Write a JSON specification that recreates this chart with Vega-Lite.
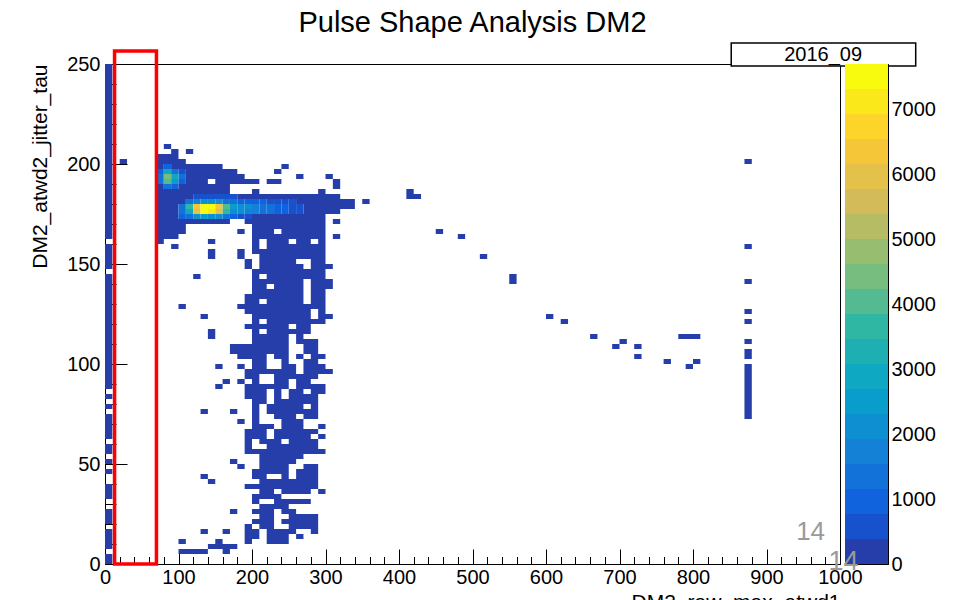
{
"$schema": "https://vega.github.io/schema/vega-lite/v6.json",
"background": "white",
"padding": {"left": 29, "top": 8, "right": 0, "bottom": 0},
"bounds": "flush",
"spacing": 5,
"config": {"font": "Liberation Sans", "view": {"stroke": "black", "strokeWidth": 1},
  "axis": {"grid": false, "domainColor": "black", "tickColor": "black", "labelColor": "black", "titleColor": "black", "labelFontSize": 20, "titleFontSize": 21, "titleFontWeight": "normal", "labelFont": "Liberation Sans", "titleFont": "Liberation Sans", "zindex": 1}},
"resolve": {"scale": {"x": "independent", "y": "independent", "color": "independent"}},
"hconcat": [
{
 "width": 735, "height": 500,
 "title": {"text": "Pulse Shape Analysis DM2", "fontSize": 29, "fontWeight": "normal", "font": "Liberation Sans", "color": "black", "anchor": "middle", "frame": "group", "offset": 4},
 "encoding": {
    "x": {"field": "x", "type": "quantitative", "scale": {"domain": [0, 1000], "nice": false, "zero": false},
      "axis": {"values": [0,20,40,60,80,100,120,140,160,180,200,220,240,260,280,300,320,340,360,380,400,420,440,460,480,500,520,540,560,580,600,620,640,660,680,700,720,740,760,780,800,820,840,860,880,900,920,940,960,980,1000],
        "labelExpr": "datum.value % 100 === 0 ? datum.label : ''", "format": "d",
        "tickSize": {"condition": {"test": "datum.value % 100 === 0", "value": -15}, "value": -7.5},
        "labelPadding": 18, "labelFlush": false, "labelOverlap": false,
        "title": "DM2_raw_max_atwd1", "titleAnchor": "end", "titlePadding": -3}},
    "y": {"field": "y", "type": "quantitative", "scale": {"domain": [0, 250], "nice": false, "zero": false},
      "axis": {"values": [0,10,20,30,40,50,60,70,80,90,100,110,120,130,140,150,160,170,180,190,200,210,220,230,240,250],
        "labelExpr": "datum.value % 50 === 0 ? datum.label : ''", "format": "d",
        "tickSize": {"condition": {"test": "datum.value % 50 === 0", "value": -22}, "value": -11},
        "labelPadding": 27, "labelFlush": false, "labelOverlap": false,
        "title": "DM2_atwd2_jitter_tau", "titleAnchor": "end", "titlePadding": 16}}
 },
 "layer": [
  {
   "data": {"values": [
{"x":0,"x2":10,"y":0,"y2":5,"n":100},
{"x":0,"x2":10,"y":7.5,"y2":17.5,"n":100},
{"x":0,"x2":10,"y":20,"y2":27.5,"n":100},
{"x":0,"x2":10,"y":32.5,"y2":40,"n":100},
{"x":0,"x2":10,"y":45,"y2":47.5,"n":100},
{"x":0,"x2":10,"y":50,"y2":52.5,"n":100},
{"x":0,"x2":10,"y":55,"y2":60,"n":100},
{"x":0,"x2":10,"y":62.5,"y2":75,"n":100},
{"x":0,"x2":10,"y":77.5,"y2":80,"n":100},
{"x":0,"x2":10,"y":82.5,"y2":85,"n":100},
{"x":0,"x2":10,"y":87.5,"y2":145,"n":100},
{"x":0,"x2":10,"y":147.5,"y2":160,"n":100},
{"x":0,"x2":10,"y":162.5,"y2":250,"n":100},
{"x":20,"x2":30,"y":200,"y2":202.5,"n":100},
{"x":870,"x2":880,"y":200,"y2":202.5,"n":100},
{"x":870,"x2":880,"y":157.5,"y2":160,"n":100},
{"x":870,"x2":880,"y":140,"y2":142.5,"n":100},
{"x":870,"x2":880,"y":125,"y2":127.5,"n":100},
{"x":870,"x2":880,"y":120,"y2":122.5,"n":100},
{"x":870,"x2":880,"y":110,"y2":112.5,"n":100},
{"x":870,"x2":880,"y":102.5,"y2":107.5,"n":100},
{"x":870,"x2":880,"y":72.5,"y2":100,"n":100},
{"x":80,"x2":90,"y":207.5,"y2":210,"n":100},
{"x":90,"x2":100,"y":205,"y2":207.5,"n":100},
{"x":110,"x2":120,"y":205,"y2":207.5,"n":100},
{"x":70,"x2":100,"y":202.5,"y2":205,"n":100},
{"x":70,"x2":110,"y":200,"y2":202.5,"n":100},
{"x":70,"x2":80,"y":197.5,"y2":200,"n":100},
{"x":80,"x2":90,"y":197.5,"y2":200,"n":900},
{"x":90,"x2":160,"y":197.5,"y2":200,"n":100},
{"x":240,"x2":250,"y":197.5,"y2":200,"n":100},
{"x":70,"x2":80,"y":195,"y2":197.5,"n":800},
{"x":80,"x2":90,"y":195,"y2":197.5,"n":2800},
{"x":90,"x2":100,"y":195,"y2":197.5,"n":1500},
{"x":100,"x2":110,"y":195,"y2":197.5,"n":600},
{"x":110,"x2":180,"y":195,"y2":197.5,"n":100},
{"x":230,"x2":240,"y":195,"y2":197.5,"n":100},
{"x":70,"x2":80,"y":192.5,"y2":195,"n":1500},
{"x":80,"x2":90,"y":192.5,"y2":195,"n":4500},
{"x":90,"x2":100,"y":192.5,"y2":195,"n":3000},
{"x":100,"x2":110,"y":192.5,"y2":195,"n":1200},
{"x":110,"x2":190,"y":192.5,"y2":195,"n":100},
{"x":260,"x2":270,"y":192.5,"y2":195,"n":100},
{"x":300,"x2":310,"y":192.5,"y2":195,"n":100},
{"x":70,"x2":80,"y":190,"y2":192.5,"n":1200},
{"x":80,"x2":90,"y":190,"y2":192.5,"n":4200},
{"x":90,"x2":100,"y":190,"y2":192.5,"n":2500},
{"x":100,"x2":110,"y":190,"y2":192.5,"n":1000},
{"x":110,"x2":140,"y":190,"y2":192.5,"n":100},
{"x":150,"x2":210,"y":190,"y2":192.5,"n":100},
{"x":220,"x2":240,"y":190,"y2":192.5,"n":100},
{"x":310,"x2":320,"y":190,"y2":192.5,"n":100},
{"x":70,"x2":80,"y":187.5,"y2":190,"n":100},
{"x":80,"x2":90,"y":187.5,"y2":190,"n":1500},
{"x":90,"x2":100,"y":187.5,"y2":190,"n":800},
{"x":100,"x2":170,"y":187.5,"y2":190,"n":100},
{"x":310,"x2":320,"y":187.5,"y2":190,"n":100},
{"x":70,"x2":170,"y":185,"y2":187.5,"n":100},
{"x":200,"x2":210,"y":185,"y2":187.5,"n":100},
{"x":290,"x2":300,"y":185,"y2":187.5,"n":100},
{"x":410,"x2":420,"y":185,"y2":187.5,"n":100},
{"x":70,"x2":120,"y":182.5,"y2":185,"n":100},
{"x":120,"x2":180,"y":182.5,"y2":185,"n":450},
{"x":180,"x2":320,"y":182.5,"y2":185,"n":100},
{"x":410,"x2":430,"y":182.5,"y2":185,"n":100},
{"x":70,"x2":110,"y":180,"y2":182.5,"n":100},
{"x":110,"x2":120,"y":180,"y2":182.5,"n":1200},
{"x":120,"x2":130,"y":180,"y2":182.5,"n":1800},
{"x":130,"x2":140,"y":180,"y2":182.5,"n":2200},
{"x":140,"x2":150,"y":180,"y2":182.5,"n":2200},
{"x":150,"x2":160,"y":180,"y2":182.5,"n":2000},
{"x":160,"x2":170,"y":180,"y2":182.5,"n":1500},
{"x":170,"x2":180,"y":180,"y2":182.5,"n":1200},
{"x":180,"x2":190,"y":180,"y2":182.5,"n":1100},
{"x":190,"x2":200,"y":180,"y2":182.5,"n":1000},
{"x":200,"x2":210,"y":180,"y2":182.5,"n":900},
{"x":210,"x2":220,"y":180,"y2":182.5,"n":800},
{"x":220,"x2":230,"y":180,"y2":182.5,"n":700},
{"x":230,"x2":240,"y":180,"y2":182.5,"n":600},
{"x":240,"x2":250,"y":180,"y2":182.5,"n":500},
{"x":250,"x2":260,"y":180,"y2":182.5,"n":420},
{"x":260,"x2":340,"y":180,"y2":182.5,"n":100},
{"x":350,"x2":360,"y":180,"y2":182.5,"n":100},
{"x":70,"x2":100,"y":177.5,"y2":180,"n":100},
{"x":100,"x2":110,"y":177.5,"y2":180,"n":1500},
{"x":110,"x2":120,"y":177.5,"y2":180,"n":3500},
{"x":120,"x2":130,"y":177.5,"y2":180,"n":6500},
{"x":130,"x2":140,"y":177.5,"y2":180,"n":7600},
{"x":140,"x2":150,"y":177.5,"y2":180,"n":7500},
{"x":150,"x2":160,"y":177.5,"y2":180,"n":6300},
{"x":160,"x2":170,"y":177.5,"y2":180,"n":4000},
{"x":170,"x2":180,"y":177.5,"y2":180,"n":2500},
{"x":180,"x2":190,"y":177.5,"y2":180,"n":2200},
{"x":190,"x2":200,"y":177.5,"y2":180,"n":2000},
{"x":200,"x2":210,"y":177.5,"y2":180,"n":1800},
{"x":210,"x2":220,"y":177.5,"y2":180,"n":1500},
{"x":220,"x2":230,"y":177.5,"y2":180,"n":1300},
{"x":230,"x2":240,"y":177.5,"y2":180,"n":1100},
{"x":240,"x2":250,"y":177.5,"y2":180,"n":900},
{"x":250,"x2":260,"y":177.5,"y2":180,"n":700},
{"x":260,"x2":270,"y":177.5,"y2":180,"n":500},
{"x":270,"x2":340,"y":177.5,"y2":180,"n":100},
{"x":70,"x2":100,"y":175,"y2":177.5,"n":100},
{"x":100,"x2":110,"y":175,"y2":177.5,"n":1300},
{"x":110,"x2":120,"y":175,"y2":177.5,"n":3000},
{"x":120,"x2":130,"y":175,"y2":177.5,"n":6000},
{"x":130,"x2":140,"y":175,"y2":177.5,"n":7400},
{"x":140,"x2":150,"y":175,"y2":177.5,"n":7300},
{"x":150,"x2":160,"y":175,"y2":177.5,"n":6000},
{"x":160,"x2":170,"y":175,"y2":177.5,"n":3600},
{"x":170,"x2":180,"y":175,"y2":177.5,"n":2200},
{"x":180,"x2":190,"y":175,"y2":177.5,"n":2000},
{"x":190,"x2":200,"y":175,"y2":177.5,"n":1800},
{"x":200,"x2":210,"y":175,"y2":177.5,"n":1600},
{"x":210,"x2":220,"y":175,"y2":177.5,"n":1400},
{"x":220,"x2":230,"y":175,"y2":177.5,"n":1200},
{"x":230,"x2":240,"y":175,"y2":177.5,"n":1000},
{"x":240,"x2":250,"y":175,"y2":177.5,"n":800},
{"x":250,"x2":260,"y":175,"y2":177.5,"n":600},
{"x":260,"x2":270,"y":175,"y2":177.5,"n":450},
{"x":270,"x2":320,"y":175,"y2":177.5,"n":100},
{"x":70,"x2":100,"y":172.5,"y2":175,"n":100},
{"x":100,"x2":110,"y":172.5,"y2":175,"n":800},
{"x":110,"x2":120,"y":172.5,"y2":175,"n":1300},
{"x":120,"x2":130,"y":172.5,"y2":175,"n":2000},
{"x":130,"x2":140,"y":172.5,"y2":175,"n":2400},
{"x":140,"x2":150,"y":172.5,"y2":175,"n":2300},
{"x":150,"x2":160,"y":172.5,"y2":175,"n":2000},
{"x":160,"x2":170,"y":172.5,"y2":175,"n":1400},
{"x":170,"x2":180,"y":172.5,"y2":175,"n":900},
{"x":180,"x2":190,"y":172.5,"y2":175,"n":600},
{"x":190,"x2":200,"y":172.5,"y2":175,"n":500},
{"x":200,"x2":300,"y":172.5,"y2":175,"n":100},
{"x":70,"x2":170,"y":170,"y2":172.5,"n":100},
{"x":190,"x2":300,"y":170,"y2":172.5,"n":100},
{"x":310,"x2":320,"y":170,"y2":172.5,"n":100},
{"x":70,"x2":110,"y":167.5,"y2":170,"n":100},
{"x":200,"x2":300,"y":167.5,"y2":170,"n":100},
{"x":70,"x2":110,"y":165,"y2":167.5,"n":100},
{"x":180,"x2":190,"y":165,"y2":167.5,"n":100},
{"x":200,"x2":230,"y":165,"y2":167.5,"n":100},
{"x":240,"x2":300,"y":165,"y2":167.5,"n":100},
{"x":450,"x2":460,"y":165,"y2":167.5,"n":100},
{"x":70,"x2":100,"y":162.5,"y2":165,"n":100},
{"x":200,"x2":300,"y":162.5,"y2":165,"n":100},
{"x":310,"x2":320,"y":162.5,"y2":165,"n":100},
{"x":480,"x2":490,"y":162.5,"y2":165,"n":100},
{"x":70,"x2":80,"y":160,"y2":162.5,"n":100},
{"x":140,"x2":150,"y":160,"y2":162.5,"n":100},
{"x":200,"x2":210,"y":160,"y2":162.5,"n":100},
{"x":220,"x2":250,"y":160,"y2":162.5,"n":100},
{"x":260,"x2":280,"y":160,"y2":162.5,"n":100},
{"x":290,"x2":300,"y":160,"y2":162.5,"n":100},
{"x":90,"x2":100,"y":157.5,"y2":160,"n":100},
{"x":200,"x2":210,"y":157.5,"y2":160,"n":100},
{"x":220,"x2":300,"y":157.5,"y2":160,"n":100},
{"x":140,"x2":150,"y":155,"y2":157.5,"n":100},
{"x":180,"x2":190,"y":155,"y2":157.5,"n":100},
{"x":200,"x2":300,"y":155,"y2":157.5,"n":100},
{"x":140,"x2":150,"y":152.5,"y2":155,"n":100},
{"x":180,"x2":190,"y":152.5,"y2":155,"n":100},
{"x":210,"x2":300,"y":152.5,"y2":155,"n":100},
{"x":510,"x2":520,"y":152.5,"y2":155,"n":100},
{"x":190,"x2":200,"y":150,"y2":152.5,"n":100},
{"x":210,"x2":260,"y":150,"y2":152.5,"n":100},
{"x":280,"x2":300,"y":150,"y2":152.5,"n":100},
{"x":190,"x2":200,"y":147.5,"y2":150,"n":100},
{"x":210,"x2":270,"y":147.5,"y2":150,"n":100},
{"x":280,"x2":310,"y":147.5,"y2":150,"n":100},
{"x":200,"x2":300,"y":145,"y2":147.5,"n":100},
{"x":120,"x2":130,"y":142.5,"y2":145,"n":100},
{"x":200,"x2":210,"y":142.5,"y2":145,"n":100},
{"x":220,"x2":300,"y":142.5,"y2":145,"n":100},
{"x":550,"x2":560,"y":140,"y2":145,"n":100},
{"x":200,"x2":270,"y":140,"y2":142.5,"n":100},
{"x":280,"x2":310,"y":140,"y2":142.5,"n":100},
{"x":200,"x2":220,"y":137.5,"y2":140,"n":100},
{"x":230,"x2":270,"y":137.5,"y2":140,"n":100},
{"x":280,"x2":310,"y":137.5,"y2":140,"n":100},
{"x":200,"x2":270,"y":135,"y2":137.5,"n":100},
{"x":280,"x2":300,"y":135,"y2":137.5,"n":100},
{"x":190,"x2":270,"y":132.5,"y2":135,"n":100},
{"x":280,"x2":300,"y":132.5,"y2":135,"n":100},
{"x":190,"x2":210,"y":130,"y2":132.5,"n":100},
{"x":220,"x2":270,"y":130,"y2":132.5,"n":100},
{"x":280,"x2":300,"y":130,"y2":132.5,"n":100},
{"x":100,"x2":110,"y":127.5,"y2":130,"n":100},
{"x":180,"x2":300,"y":127.5,"y2":130,"n":100},
{"x":190,"x2":280,"y":125,"y2":127.5,"n":100},
{"x":290,"x2":300,"y":125,"y2":127.5,"n":100},
{"x":130,"x2":140,"y":122.5,"y2":125,"n":100},
{"x":200,"x2":280,"y":122.5,"y2":125,"n":100},
{"x":290,"x2":310,"y":122.5,"y2":125,"n":100},
{"x":600,"x2":610,"y":122.5,"y2":125,"n":100},
{"x":200,"x2":210,"y":120,"y2":122.5,"n":100},
{"x":220,"x2":300,"y":120,"y2":122.5,"n":100},
{"x":620,"x2":630,"y":120,"y2":122.5,"n":100},
{"x":190,"x2":250,"y":117.5,"y2":120,"n":100},
{"x":260,"x2":280,"y":117.5,"y2":120,"n":100},
{"x":140,"x2":150,"y":112.5,"y2":117.5,"n":100},
{"x":200,"x2":210,"y":115,"y2":117.5,"n":100},
{"x":220,"x2":280,"y":115,"y2":117.5,"n":100},
{"x":200,"x2":250,"y":112.5,"y2":115,"n":100},
{"x":260,"x2":270,"y":112.5,"y2":115,"n":100},
{"x":660,"x2":670,"y":112.5,"y2":115,"n":100},
{"x":780,"x2":810,"y":112.5,"y2":115,"n":100},
{"x":200,"x2":250,"y":110,"y2":112.5,"n":100},
{"x":260,"x2":290,"y":110,"y2":112.5,"n":100},
{"x":700,"x2":710,"y":110,"y2":112.5,"n":100},
{"x":170,"x2":250,"y":105,"y2":110,"n":100},
{"x":270,"x2":290,"y":105,"y2":110,"n":100},
{"x":690,"x2":700,"y":107.5,"y2":110,"n":100},
{"x":720,"x2":730,"y":107.5,"y2":110,"n":100},
{"x":180,"x2":220,"y":102.5,"y2":105,"n":100},
{"x":230,"x2":250,"y":102.5,"y2":105,"n":100},
{"x":260,"x2":270,"y":102.5,"y2":105,"n":100},
{"x":280,"x2":300,"y":102.5,"y2":105,"n":100},
{"x":720,"x2":730,"y":102.5,"y2":105,"n":100},
{"x":200,"x2":220,"y":100,"y2":102.5,"n":100},
{"x":240,"x2":250,"y":100,"y2":102.5,"n":100},
{"x":270,"x2":290,"y":100,"y2":102.5,"n":100},
{"x":760,"x2":770,"y":100,"y2":102.5,"n":100},
{"x":800,"x2":810,"y":100,"y2":102.5,"n":100},
{"x":150,"x2":160,"y":97.5,"y2":100,"n":100},
{"x":180,"x2":190,"y":97.5,"y2":100,"n":100},
{"x":200,"x2":220,"y":97.5,"y2":100,"n":100},
{"x":240,"x2":260,"y":97.5,"y2":100,"n":100},
{"x":270,"x2":300,"y":97.5,"y2":100,"n":100},
{"x":790,"x2":800,"y":97.5,"y2":100,"n":100},
{"x":190,"x2":260,"y":95,"y2":97.5,"n":100},
{"x":270,"x2":310,"y":95,"y2":97.5,"n":100},
{"x":190,"x2":210,"y":92.5,"y2":95,"n":100},
{"x":230,"x2":290,"y":92.5,"y2":95,"n":100},
{"x":160,"x2":170,"y":90,"y2":92.5,"n":100},
{"x":180,"x2":190,"y":90,"y2":92.5,"n":100},
{"x":200,"x2":210,"y":90,"y2":92.5,"n":100},
{"x":230,"x2":250,"y":90,"y2":92.5,"n":100},
{"x":260,"x2":280,"y":90,"y2":92.5,"n":100},
{"x":150,"x2":160,"y":87.5,"y2":90,"n":100},
{"x":190,"x2":250,"y":87.5,"y2":90,"n":100},
{"x":260,"x2":300,"y":87.5,"y2":90,"n":100},
{"x":190,"x2":220,"y":85,"y2":87.5,"n":100},
{"x":230,"x2":240,"y":85,"y2":87.5,"n":100},
{"x":250,"x2":270,"y":85,"y2":87.5,"n":100},
{"x":280,"x2":300,"y":85,"y2":87.5,"n":100},
{"x":190,"x2":220,"y":82.5,"y2":85,"n":100},
{"x":230,"x2":240,"y":82.5,"y2":85,"n":100},
{"x":250,"x2":290,"y":82.5,"y2":85,"n":100},
{"x":200,"x2":220,"y":80,"y2":82.5,"n":100},
{"x":230,"x2":290,"y":80,"y2":82.5,"n":100},
{"x":200,"x2":210,"y":77.5,"y2":80,"n":100},
{"x":220,"x2":270,"y":77.5,"y2":80,"n":100},
{"x":280,"x2":290,"y":77.5,"y2":80,"n":100},
{"x":130,"x2":140,"y":75,"y2":77.5,"n":100},
{"x":170,"x2":180,"y":75,"y2":77.5,"n":100},
{"x":200,"x2":210,"y":75,"y2":77.5,"n":100},
{"x":220,"x2":290,"y":75,"y2":77.5,"n":100},
{"x":200,"x2":210,"y":72.5,"y2":75,"n":100},
{"x":230,"x2":260,"y":72.5,"y2":75,"n":100},
{"x":270,"x2":290,"y":72.5,"y2":75,"n":100},
{"x":180,"x2":190,"y":70,"y2":72.5,"n":100},
{"x":200,"x2":210,"y":70,"y2":72.5,"n":100},
{"x":240,"x2":270,"y":70,"y2":72.5,"n":100},
{"x":200,"x2":230,"y":67.5,"y2":70,"n":100},
{"x":240,"x2":270,"y":67.5,"y2":70,"n":100},
{"x":290,"x2":300,"y":67.5,"y2":70,"n":100},
{"x":190,"x2":220,"y":65,"y2":67.5,"n":100},
{"x":230,"x2":290,"y":65,"y2":67.5,"n":100},
{"x":190,"x2":220,"y":62.5,"y2":65,"n":100},
{"x":230,"x2":280,"y":62.5,"y2":65,"n":100},
{"x":290,"x2":300,"y":62.5,"y2":65,"n":100},
{"x":190,"x2":200,"y":60,"y2":62.5,"n":100},
{"x":210,"x2":240,"y":60,"y2":62.5,"n":100},
{"x":250,"x2":290,"y":60,"y2":62.5,"n":100},
{"x":190,"x2":200,"y":57.5,"y2":60,"n":100},
{"x":220,"x2":290,"y":57.5,"y2":60,"n":100},
{"x":190,"x2":300,"y":55,"y2":57.5,"n":100},
{"x":210,"x2":270,"y":52.5,"y2":55,"n":100},
{"x":170,"x2":180,"y":50,"y2":52.5,"n":100},
{"x":210,"x2":260,"y":50,"y2":52.5,"n":100},
{"x":180,"x2":190,"y":47.5,"y2":50,"n":100},
{"x":210,"x2":250,"y":47.5,"y2":50,"n":100},
{"x":270,"x2":290,"y":47.5,"y2":50,"n":100},
{"x":200,"x2":250,"y":45,"y2":47.5,"n":100},
{"x":260,"x2":290,"y":45,"y2":47.5,"n":100},
{"x":130,"x2":140,"y":42.5,"y2":45,"n":100},
{"x":200,"x2":220,"y":42.5,"y2":45,"n":100},
{"x":240,"x2":250,"y":42.5,"y2":45,"n":100},
{"x":260,"x2":290,"y":42.5,"y2":45,"n":100},
{"x":140,"x2":150,"y":40,"y2":42.5,"n":100},
{"x":210,"x2":290,"y":40,"y2":42.5,"n":100},
{"x":190,"x2":290,"y":37.5,"y2":40,"n":100},
{"x":210,"x2":230,"y":35,"y2":37.5,"n":100},
{"x":240,"x2":280,"y":35,"y2":37.5,"n":100},
{"x":290,"x2":300,"y":35,"y2":37.5,"n":100},
{"x":200,"x2":240,"y":32.5,"y2":35,"n":100},
{"x":200,"x2":210,"y":30,"y2":32.5,"n":100},
{"x":230,"x2":280,"y":30,"y2":32.5,"n":100},
{"x":210,"x2":250,"y":27.5,"y2":30,"n":100},
{"x":170,"x2":180,"y":25,"y2":27.5,"n":100},
{"x":200,"x2":230,"y":25,"y2":27.5,"n":100},
{"x":240,"x2":260,"y":25,"y2":27.5,"n":100},
{"x":210,"x2":230,"y":22.5,"y2":25,"n":100},
{"x":250,"x2":290,"y":22.5,"y2":25,"n":100},
{"x":200,"x2":230,"y":20,"y2":22.5,"n":100},
{"x":240,"x2":290,"y":20,"y2":22.5,"n":100},
{"x":190,"x2":200,"y":17.5,"y2":20,"n":100},
{"x":210,"x2":230,"y":17.5,"y2":20,"n":100},
{"x":250,"x2":290,"y":17.5,"y2":20,"n":100},
{"x":130,"x2":140,"y":15,"y2":17.5,"n":100},
{"x":160,"x2":170,"y":15,"y2":17.5,"n":100},
{"x":190,"x2":210,"y":15,"y2":17.5,"n":100},
{"x":220,"x2":260,"y":15,"y2":17.5,"n":100},
{"x":280,"x2":290,"y":15,"y2":17.5,"n":100},
{"x":190,"x2":210,"y":12.5,"y2":15,"n":100},
{"x":220,"x2":250,"y":12.5,"y2":15,"n":100},
{"x":260,"x2":270,"y":12.5,"y2":15,"n":100},
{"x":100,"x2":110,"y":10,"y2":12.5,"n":100},
{"x":150,"x2":160,"y":10,"y2":12.5,"n":100},
{"x":190,"x2":200,"y":10,"y2":12.5,"n":100},
{"x":220,"x2":250,"y":10,"y2":12.5,"n":100},
{"x":140,"x2":180,"y":7.5,"y2":10,"n":100},
{"x":100,"x2":140,"y":5,"y2":7.5,"n":100},
{"x":160,"x2":170,"y":5,"y2":7.5,"n":100}
   ]},
   "mark": {"type": "rect"},
   "encoding": {
    "x2": {"field": "x2"},
    "y2": {"field": "y2"},
    "color": {"field": "n", "type": "quantitative", "legend": null,
      "scale": {"type": "threshold", "domain": [385,770,1155,1540,1925,2310,2695,3080,3465,3850,4235,4620,5005,5390,5775,6160,6545,6930,7315],
        "range": ["#263ea9","#1752cc","#1063dc","#1272d9","#1481d6","#0e8fd1","#099dcc","#0ea8c2","#1eafb3","#2fb7a3","#53ba91","#77bd7f","#97be70","#b5bc64","#d2bb58","#e4c149","#f6c639","#fdd42a","#fbe81b","#f9fb0e"]}}
   }
  },
  {
   "data": {"values": [
     {"kind": "frame", "x": 13, "x2": 70, "y": 0, "y2": 256.5},
     {"kind": "box", "x": 852, "x2": 1103, "y": 249, "y2": 260.5}
   ]},
   "mark": {"type": "rect"},
   "encoding": {
    "x2": {"field": "x2"},
    "y2": {"field": "y2"},
    "fill": {"field": "kind", "type": "nominal", "scale": {"domain": ["frame", "box"], "range": ["transparent", "white"]}, "legend": null},
    "stroke": {"field": "kind", "type": "nominal", "scale": {"domain": ["frame", "box"], "range": ["#ff0000", "black"]}, "legend": null},
    "strokeWidth": {"field": "kind", "type": "nominal", "scale": {"domain": ["frame", "box"], "range": [3.5, 1.5]}, "legend": null}
   }
  },
  {
   "data": {"values": [
     {"label": "2016_09", "x": 977, "y": 254.75, "kind": "legend"},
     {"label": "14", "x": 960, "y": 16, "kind": "page"}
   ]},
   "mark": {"type": "text", "font": "Liberation Sans", "align": "center", "baseline": "middle"},
   "encoding": {
    "text": {"field": "label"},
    "color": {"field": "kind", "type": "nominal", "scale": {"domain": ["legend", "page"], "range": ["black", "#9a9a9a"]}, "legend": null},
    "size": {"field": "kind", "type": "nominal", "scale": {"domain": ["legend", "page"], "range": [20, 26]}, "legend": null}
   }
  }
 ]
},
{
 "width": 43, "height": 500,
 "encoding": {
  "y": {"field": "lo", "type": "quantitative", "scale": {"domain": [0, 7700], "nice": false, "zero": false},
    "axis": {"orient": "right", "values": [0,1000,2000,3000,4000,5000,6000,7000], "format": "d", "tickSize": -22, "labelPadding": 25, "labelFlush": false, "labelOverlap": false, "title": null, "domain": true}}
 },
 "layer": [
  {
   "data": {"values": [
{"lo":0,"hi":385},{"lo":385,"hi":770},{"lo":770,"hi":1155},{"lo":1155,"hi":1540},{"lo":1540,"hi":1925},
{"lo":1925,"hi":2310},{"lo":2310,"hi":2695},{"lo":2695,"hi":3080},{"lo":3080,"hi":3465},{"lo":3465,"hi":3850},
{"lo":3850,"hi":4235},{"lo":4235,"hi":4620},{"lo":4620,"hi":5005},{"lo":5005,"hi":5390},{"lo":5390,"hi":5775},
{"lo":5775,"hi":6160},{"lo":6160,"hi":6545},{"lo":6545,"hi":6930},{"lo":6930,"hi":7315},{"lo":7315,"hi":7700}
   ]},
   "mark": {"type": "rect"},
   "encoding": {
    "y2": {"field": "hi"},
    "color": {"field": "lo", "type": "quantitative", "legend": null,
      "scale": {"type": "threshold", "domain": [385,770,1155,1540,1925,2310,2695,3080,3465,3850,4235,4620,5005,5390,5775,6160,6545,6930,7315],
        "range": ["#263ea9","#1752cc","#1063dc","#1272d9","#1481d6","#0e8fd1","#099dcc","#0ea8c2","#1eafb3","#2fb7a3","#53ba91","#77bd7f","#97be70","#b5bc64","#d2bb58","#e4c149","#f6c639","#fdd42a","#fbe81b","#f9fb0e"]}}
   }
  },
  {
   "data": {"values": [{"lo": 31, "label": "14"}]},
   "mark": {"type": "text", "font": "Liberation Sans", "fontSize": 27, "color": "#9a9a9a", "align": "center", "baseline": "middle", "dx": -23},
   "encoding": {"text": {"field": "label"}}
  }
 ]
}
]
}
